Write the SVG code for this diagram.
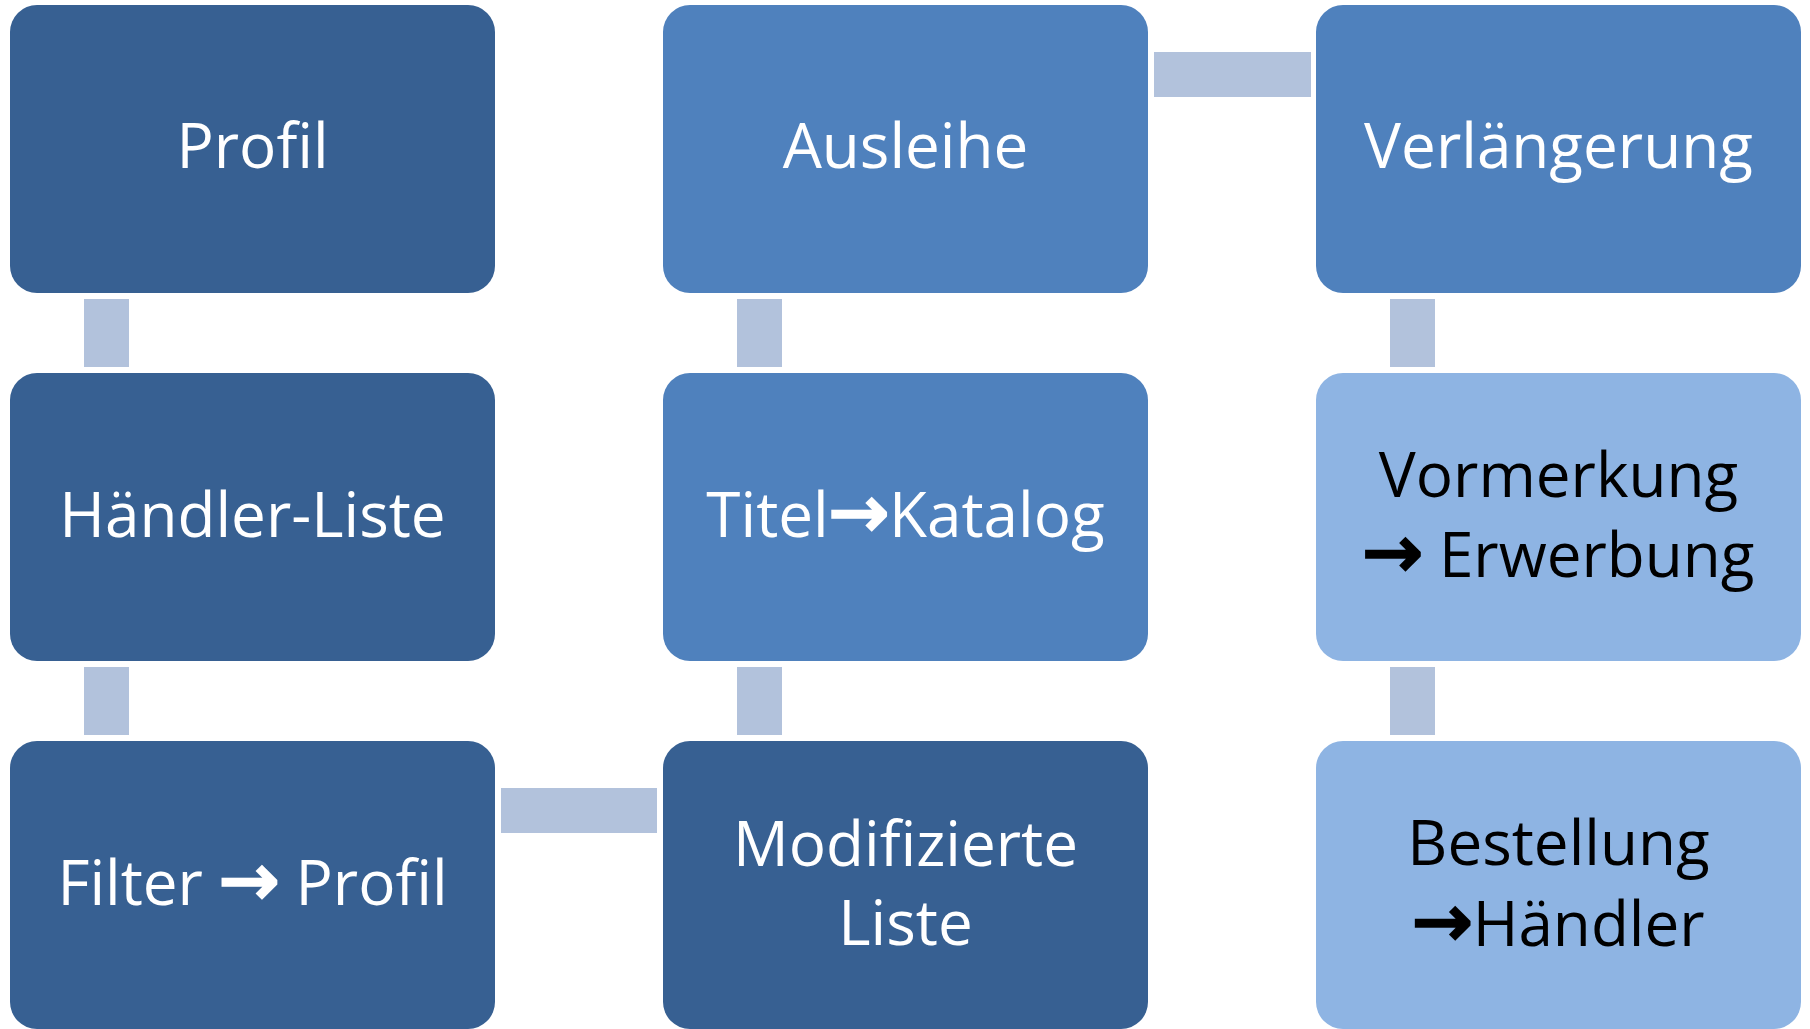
<svg xmlns="http://www.w3.org/2000/svg" width="1810" height="1029" viewBox="0 0 1810 1029">
<style>
.dark{fill:#376092}
.mid{fill:#4F81BD}
.light{fill:#8EB4E3}
.conn{fill:#B2C2DC}
text{font-family:"Open Sans","DejaVu Sans",sans-serif;font-size:62px;text-anchor:middle}
.arr{font-family:"DejaVu Sans",sans-serif;font-size:72px;stroke-width:3px}
.w{fill:#FFFFFF}
.w .arr{stroke:#FFFFFF}
.b{fill:#000000}
.b .arr{stroke:#000000}
</style>
<rect width="1810" height="1029" fill="#FFFFFF"/>
<g id="connectors">
<rect class="conn" x="84" y="299" width="45" height="68"/>
<rect class="conn" x="84" y="667" width="45" height="68"/>
<rect class="conn" x="737" y="299" width="45" height="68"/>
<rect class="conn" x="737" y="667" width="45" height="68"/>
<rect class="conn" x="1390" y="299" width="45" height="68"/>
<rect class="conn" x="1390" y="667" width="45" height="68"/>
<rect class="conn" x="501" y="788" width="156" height="45"/>
<rect class="conn" x="1154" y="52" width="157" height="45"/>
</g>
<g id="node-profil">
<rect class="dark" x="10" y="5" width="485" height="288" rx="27"/>
<text class="w" x="252.5" y="168">Profil</text>
</g>
<g id="node-haendler-liste">
<rect class="dark" x="10" y="373" width="485" height="288" rx="27"/>
<text class="w" x="252.5" y="537">Händler-Liste</text>
</g>
<g id="node-filter-profil">
<rect class="dark" x="10" y="741" width="485" height="288" rx="27"/>
<text class="w" x="252.5" y="905">Filter <tspan class="arr">→</tspan> Profil</text>
</g>
<g id="node-modifizierte-liste">
<rect class="dark" x="663" y="741" width="485" height="288" rx="27"/>
<text class="w" x="905.5" y="866">Modifizierte</text>
<text class="w" x="905.5" y="945">Liste</text>
</g>
<g id="node-titel-katalog">
<rect class="mid" x="663" y="373" width="485" height="288" rx="27"/>
<text class="w" x="905.5" y="537">Titel<tspan class="arr">→</tspan>Katalog</text>
</g>
<g id="node-ausleihe">
<rect class="mid" x="663" y="5" width="485" height="288" rx="27"/>
<text class="w" x="905.5" y="168">Ausleihe</text>
</g>
<g id="node-verlaengerung">
<rect class="mid" x="1316" y="5" width="485" height="288" rx="27"/>
<text class="w" x="1558.5" y="168">Verlängerung</text>
</g>
<g id="node-vormerkung">
<rect class="light" x="1316" y="373" width="485" height="288" rx="27"/>
<text class="b" x="1558.5" y="497">Vormerkung</text>
<text class="b" x="1558.5" y="577"><tspan class="arr">→</tspan> Erwerbung</text>
</g>
<g id="node-bestellung">
<rect class="light" x="1316" y="741" width="485" height="288" rx="27"/>
<text class="b" x="1558.5" y="865">Bestellung</text>
<text class="b" x="1558.5" y="946"><tspan class="arr">→</tspan>Händler</text>
</g>
</svg>
